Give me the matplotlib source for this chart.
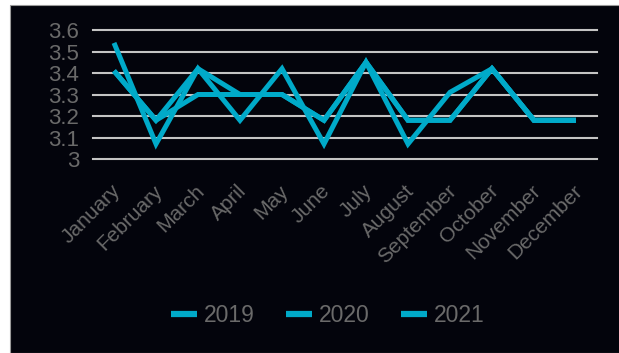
import numpy as np
import matplotlib
matplotlib.use('Agg')
import matplotlib.pyplot as plt
from matplotlib.patches import Rectangle
from matplotlib.transforms import ScaledTranslation

# ── DATA ────────────────────────────────────────────────────────
months = ['January', 'February', 'March', 'April', 'May', 'June',
          'July', 'August', 'September', 'October', 'November', 'December']
years = ['2019', '2020', '2021']
values_2019 = [3.54, 3.07, 3.42, 3.18, 3.42, 3.07, 3.45, 3.07, 3.31, 3.42, 3.18, 3.18]
values_2020 = [3.41, 3.18, 3.42, 3.30, 3.30, 3.18, 3.45, 3.18, 3.18, 3.42, 3.18, 3.18]
values_2021 = [3.41, 3.18, 3.30, 3.30, 3.30, 3.18, 3.45, 3.18, 3.18, 3.42, 3.18, 3.18]
y_ticks = [3.0, 3.1, 3.2, 3.3, 3.4, 3.5, 3.6]
y_labels = ['3', '3.1', '3.2', '3.3', '3.4', '3.5', '3.6']

# ── STYLE ───────────────────────────────────────────────────────
BG = '#03040c'
LINE = '#00aac9'
TEXT = '#6a6a6a'
GRID = '#c4c4c4'
plt.rcParams['font.family'] = ['Liberation Sans', 'DejaVu Sans']

W, H = 619, 353
fig = plt.figure(figsize=(W / 100, H / 100), dpi=100)
fig.patch.set_facecolor('white')

# dark panel behind the chart
fig.patches.append(Rectangle((10 / W, 0.5 / H), (W - 9) / W, (H - 5.5) / H,
                             transform=fig.transFigure, facecolor=BG,
                             edgecolor='#9a9a9a', linewidth=0.8, zorder=-10))

ax = fig.add_axes([93 / W, (H - 159) / H, 504 / W, 129 / H])
ax.set_facecolor('none')
ax.set_zorder(1)

x = np.arange(len(months))
for vals, label in zip([values_2019, values_2020, values_2021], years):
    ax.plot(x, vals, color=LINE, linewidth=3.6, label=label,
            solid_joinstyle='miter', solid_capstyle='butt', zorder=3)

ax.set_xlim(-0.5, len(months) - 0.5)
ax.set_ylim(3.0, 3.6)
for yv in y_ticks:
    ax.axhline(yv, color=GRID, linewidth=1.5, zorder=1, clip_on=False)

ax.set_yticks(y_ticks)
ax.set_yticklabels(y_labels)
ax.set_xticks(x)
ax.set_xticklabels(months, rotation=45, ha='right', rotation_mode='anchor')
ax.tick_params(axis='y', length=0, pad=10, labelsize=16, labelcolor=TEXT)
ax.tick_params(axis='x', length=0, pad=16, labelsize=15, labelcolor=TEXT)
# nudge month names a little to the left
nudge = ScaledTranslation(-3.5 / 100, 0, fig.dpi_scale_trans)
for lbl in ax.get_xticklabels():
    lbl.set_transform(lbl.get_transform() + nudge)
for spine in ax.spines.values():
    spine.set_visible(False)

leg = fig.legend(loc='center', bbox_to_anchor=(328 / W, (H - 316) / H), ncol=3,
                 frameon=False, fontsize=16.5, labelcolor=TEXT,
                 handlelength=1.15, handletextpad=0.3, columnspacing=1.35)
for h in leg.legend_handles:
    h.set_linewidth(4.5)

fig.savefig('out.png', dpi=100, facecolor='white')
